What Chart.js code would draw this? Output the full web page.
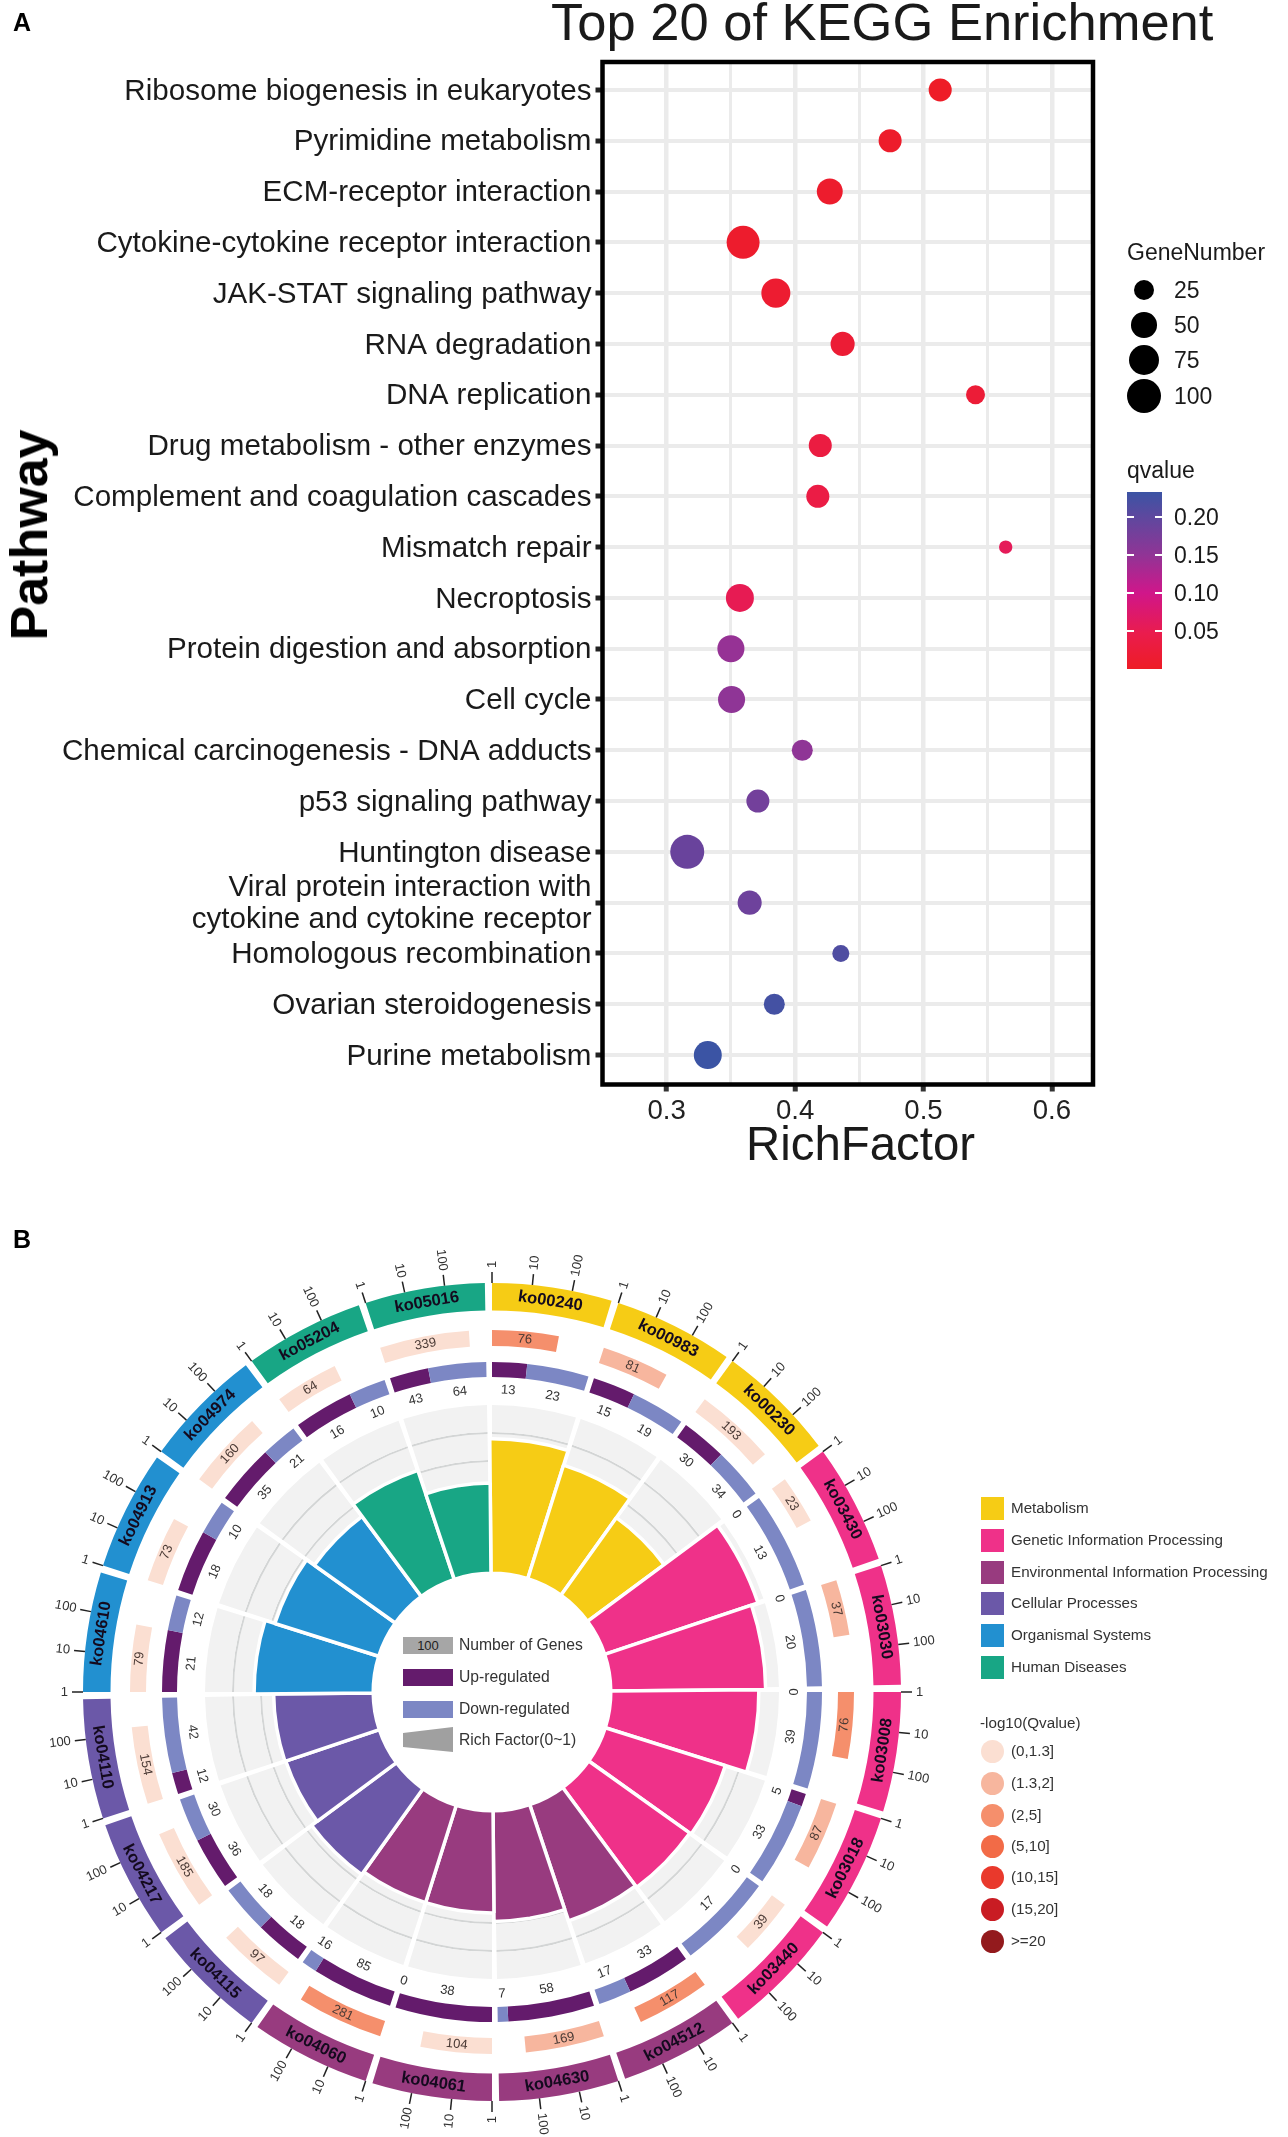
<!DOCTYPE html>
<html>
<head>
<meta charset="utf-8">
<title>KEGG enrichment</title>
<script src="https://cdn.jsdelivr.net/npm/chart.js@4"></script>
<style>
  html, body { margin: 0; padding: 0; background: #fff; }
  #page { position: relative; width: 1288px; height: 2137px; overflow: hidden; font-family: "Liberation Sans", Arial, sans-serif; color: #1a1a1a; }
  canvas { position: absolute; }
  .t { position: absolute; white-space: nowrap; line-height: 1; transform: translateY(-50%); }
  .box { position: absolute; }
</style>
</head>
<body>
<div id="page">
  <canvas id="dots" width="1288" height="1200" style="left:0;top:0;width:1288px;height:1200px"></canvas>
  <canvas id="rings" width="1000" height="937" style="left:0;top:1200px;width:1000px;height:937px"></canvas>
  <canvas id="bars" width="578" height="578" style="left:203px;top:1403px;width:578px;height:578px"></canvas>
</div>
<script>
// panel A
const pathways = ['Ribosome biogenesis in eukaryotes', 'Pyrimidine metabolism', 'ECM-receptor interaction',
  'Cytokine-cytokine receptor interaction', 'JAK-STAT signaling pathway', 'RNA degradation', 'DNA replication',
  'Drug metabolism - other enzymes', 'Complement and coagulation cascades', 'Mismatch repair', 'Necroptosis',
  'Protein digestion and absorption', 'Cell cycle', 'Chemical carcinogenesis - DNA adducts', 'p53 signaling pathway',
  'Huntington disease', ['Viral protein interaction with', 'cytokine and cytokine receptor'],
  'Homologous recombination', 'Ovarian steroidogenesis', 'Purine metabolism'];
const richFactor = [0.513, 0.474, 0.427, 0.3595, 0.385, 0.437, 0.5405, 0.4196, 0.4177, 0.564,
  0.357, 0.350, 0.3505, 0.4056, 0.371, 0.316, 0.3646, 0.4356, 0.3838, 0.332];
const geneNumber = [38, 38, 52, 93, 69, 43, 21, 38, 38, 3, 63, 58, 58, 29, 38, 100, 43, 14, 29, 63];
const qvalue = [0.002, 0.008, 0.01, 0.01, 0.015, 0.02, 0.022, 0.035, 0.04, 0.06,
  0.055, 0.145, 0.15, 0.15, 0.18, 0.19, 0.185, 0.215, 0.225, 0.233];
const richTicks = [0.3, 0.35, 0.4, 0.45, 0.5, 0.55, 0.6];
const sizeKeys = [25, 50, 75, 100];
const qTicks = ['0.20', '0.15', '0.10', '0.05'];

// panel B, clockwise from 12 o'clock
const koIds = ['ko00240', 'ko00983', 'ko00230', 'ko03430', 'ko03030', 'ko03008', 'ko03018', 'ko03440', 'ko04512', 'ko04630',
  'ko04061', 'ko04060', 'ko04115', 'ko04217', 'ko04110', 'ko04610', 'ko04913', 'ko04974', 'ko05204', 'ko05016'];
const koClass = [0, 0, 0, 1, 1, 1, 1, 1, 2, 2, 2, 2, 3, 3, 3, 4, 4, 4, 5, 5];
const koGenes = [76, 81, 193, 23, 37, 76, 87, 39, 117, 169, 104, 281, 97, 185, 154, 79, 73, 160, 64, 339];
const koQBin = [2, 1, 0, 0, 1, 2, 1, 0, 2, 1, 0, 2, 0, 0, 0, 0, 0, 0, 0, 0];
const koUp = [13, 15, 30, 0, 0, 0, 5, 0, 33, 58, 38, 85, 18, 36, 12, 21, 18, 35, 16, 43];
const koDown = [23, 19, 34, 13, 20, 39, 33, 17, 17, 7, 0, 16, 18, 30, 42, 12, 10, 21, 10, 64];
const koRich = [0.79, 0.70, 0.56, 0.95, 0.91, 0.87, 0.74, 0.73, 0.72, 0.65,
  0.60, 0.60, 0.62, 0.58, 0.585, 0.70, 0.64, 0.585, 0.675, 0.53];
const classNames = ['Metabolism', 'Genetic Information Processing', 'Environmental Information Processing',
  'Cellular Processes', 'Organismal Systems', 'Human Diseases'];
const classColors = ['#f6cc15', '#ef3189', '#983b7f', '#6b58a8', '#2290d0', '#18a685'];
const qBinNames = ['(0,1.3]', '(1.3,2]', '(2,5]', '(5,10]', '(10,15]', '(15,20]', '>=20'];
const qBinColors = ['#fbdfd2', '#f7b69e', '#f58f6c', '#f26b47', '#e9392c', '#c91c23', '#931a1d'];
const logTicks = ['1', '10', '100'];

const UP = '#641b6c', DOWN = '#7c87c4', TRACK = '#f2f2f2', TRACK_LINE = '#d3d5d5', NONE = 'rgba(0,0,0,0)';
const FONT = '"Liberation Sans", Arial, sans-serif';
const page = document.getElementById('page');

// --- html text and keys ---
function put(text, x, y, size, extra) {
  const d = document.createElement('div');
  d.className = 't';
  d.textContent = text;
  d.style.left = x + 'px';
  d.style.top = y + 'px';
  d.style.fontSize = size + 'px';
  if (extra) Object.assign(d.style, extra);
  page.appendChild(d);
  return d;
}
function box(x, y, w, h, extra) {
  const d = document.createElement('div');
  d.className = 'box';
  Object.assign(d.style, { left: x + 'px', top: y + 'px', width: w + 'px', height: h + 'px' }, extra);
  page.appendChild(d);
  return d;
}

put('A', 13, 22, 25, { fontWeight: 'bold', color: '#000' });
put('B', 13, 1239, 25, { fontWeight: 'bold', color: '#000' });
put('Top 20 of KEGG Enrichment', 551, 22, 52.5);
put('RichFactor', 746, 1144, 47.4);
put('Pathway', 29, 535, 52, { fontWeight: 'bold', color: '#000', transform: 'translate(-50%,-50%) rotate(-90deg)' });

put('GeneNumber', 1127, 252, 23);
const sizeY = [290, 325, 360, 396];
sizeKeys.forEach((k, i) => {
  const r = sizeOf(k);
  box(1144 - r, sizeY[i] - r, 2 * r, 2 * r, { background: '#000', borderRadius: '50%' });
  put(String(k), 1174, sizeY[i], 23);
});
put('qvalue', 1127, 470, 23);
box(1127, 492, 35, 177, { background: 'linear-gradient(to top,#ee1c25 0%,#ea1c4d 20%,#d0168a 43%,#8f3596 65%,#60479e 85%,#3b54a4 100%)' });
[517, 555, 593, 631].forEach((y, i) => {
  box(1127, y - 1, 7, 2, { background: '#fff' });
  box(1155, y - 1, 7, 2, { background: '#fff' });
  put(qTicks[i], 1174, y, 23);
});

// legend in the middle of the rings
[['100', 1645, '#a6a6a6', 'Number of Genes'], ['', 1677, UP, 'Up-regulated'], ['', 1709, DOWN, 'Down-regulated']].forEach(row => {
  const b = box(403, row[1] - 8.5, 50, 17, { background: row[2], color: '#222', font: '13px ' + FONT, textAlign: 'center', lineHeight: '17px' });
  b.textContent = row[0];
  put(row[3], 459, row[1], 15.7, { color: '#333' });
});
box(403, 1727, 50, 25, { background: '#a0a0a0', clipPath: 'polygon(0 24%,100% 0,100% 100%,0 80%)' });
put('Rich Factor(0~1)', 459, 1740, 15.7, { color: '#333' });

classNames.forEach((n, i) => {
  const y = [1508, 1540, 1572, 1603, 1635, 1667][i];
  box(981, y - 11.5, 23, 23, { background: classColors[i] });
  put(n, 1011, y, 15.2, { color: '#333' });
});
put('-log10(Qvalue)', 980, 1723, 15.2, { color: '#333' });
qBinNames.forEach((n, i) => {
  const y = [1751, 1783, 1815, 1846, 1877, 1909, 1941][i];
  box(980.5, y - 11.5, 23, 23, { background: qBinColors[i], borderRadius: '50%' });
  put(n, 1011, y, 15.2, { color: '#333' });
});

// --- panel A ---
function sizeOf(g) { return Math.sqrt(37 + 2.52 * g); }

const qStops = [[0, [238, 28, 37]], [0.05, [234, 28, 77]], [0.1, [208, 22, 138]], [0.15, [143, 53, 150]], [0.2, [96, 71, 158]], [0.233, [59, 84, 164]]];
function qColor(q) {
  for (let i = 1; i < qStops.length; i++) {
    if (q <= qStops[i][0]) {
      const a = qStops[i - 1], b = qStops[i], f = (q - a[0]) / (b[0] - a[0]);
      return 'rgb(' + a[1].map((v, c) => Math.round(v + (b[1][c] - v) * f)).join(',') + ')';
    }
  }
  return 'rgb(59,84,164)';
}

const frame = {
  id: 'frame',
  afterDraw(chart) {
    const a = chart.chartArea, c = chart.ctx;
    c.save();
    c.strokeStyle = '#000';
    c.lineWidth = 4.5;
    c.strokeRect(a.left, a.top, a.right - a.left, a.bottom - a.top);
    c.restore();
  }
};

const isMajor = v => Math.round(v * 100) % 10 === 0;

new Chart(document.getElementById('dots'), {
  type: 'bubble',
  data: {
    datasets: [{
      label: 'Pathways',
      data: pathways.map((p, i) => ({ x: richFactor[i], y: i + 1, r: sizeOf(geneNumber[i]) })),
      backgroundColor: qvalue.map(qColor),
      borderWidth: 0
    }]
  },
  options: {
    responsive: false,
    animation: false,
    layout: { padding: { top: 62, left: 0, right: 195, bottom: 0 } },
    plugins: { legend: { display: false }, tooltip: { enabled: false } },
    scales: {
      x: {
        type: 'linear', min: 0.25, max: 0.632,
        afterBuildTicks: s => { s.ticks = richTicks.map(v => ({ value: v })); },
        afterFit: s => { s.height = 115.5; },
        grid: {
          color: '#ebebeb',
          lineWidth: ctx => (ctx.tick && isMajor(ctx.tick.value) ? 4.5 : 3),
          tickColor: ctx => (ctx.tick && isMajor(ctx.tick.value) ? '#333' : NONE),
          tickLength: 7, tickWidth: 5
        },
        border: { display: false },
        ticks: {
          autoSkip: false, maxRotation: 0, padding: 3, color: '#222',
          font: { family: FONT, size: 27.6 },
          callback: v => (isMajor(v) ? v.toFixed(1) : '')
        }
      },
      y: {
        type: 'linear', min: 0.45, max: 20.58, reverse: true,
        afterBuildTicks: s => { s.ticks = pathways.map((p, i) => ({ value: i + 1 })); },
        afterFit: s => { s.width = 602.5; },
        grid: { color: '#ebebeb', lineWidth: 4, tickColor: '#222', tickLength: 7, tickWidth: 5 },
        border: { display: false },
        ticks: {
          autoSkip: false, padding: 4, color: '#1a1a1a', labelOffset: 1.5,
          font: { family: FONT, size: 29.6, lineHeight: 1.07 },
          callback: v => pathways[v - 1]
        }
      }
    }
  },
  plugins: [frame]
});

// --- panel B ---
const SECTOR = 17, GAP = 1; // degrees of arc per pathway
const koSlices = koIds.flatMap(() => [SECTOR, GAP]);
const koColors = koClass.flatMap(c => [classColors[c], NONE]);
const geneSlices = koGenes.flatMap(g => { const f = Math.log10(g) / 3; return [SECTOR * f, SECTOR * (1 - f) + GAP]; });
const geneColors = koQBin.flatMap(b => [qBinColors[b], NONE]);
const regSlices = koIds.flatMap((k, i) => {
  const t = koUp[i] + koDown[i];
  return [SECTOR * koUp[i] / t, SECTOR * koDown[i] / t, GAP];
});
const regColors = koIds.flatMap(() => [UP, DOWN, NONE]);
const trackColors = koIds.flatMap(() => [TRACK, NONE]);
const lineColors = koIds.flatMap(() => [TRACK_LINE, NONE]);

function ring(label, data, colors, weight) {
  return { label, data, backgroundColor: colors, weight, borderWidth: 0 };
}
function deg(a) { return (a + Math.PI / 2) * 180 / Math.PI; }

function textAt(c, text, ang, r, rotDeg, align) {
  c.save();
  c.translate(492 + r * Math.cos(ang), 492 + r * Math.sin(ang));
  c.rotate(rotDeg * Math.PI / 180);
  c.textAlign = align || 'center';
  c.textBaseline = 'middle';
  c.fillText(text, 0, 0);
  c.restore();
}
function bent(theta) { return theta < 90 || theta > 270 ? theta : theta - 180; }

const ringText = {
  id: 'ringText',
  afterDatasetsDraw(chart) {
    const c = chart.ctx;
    const ko = chart.getDatasetMeta(0).data, gene = chart.getDatasetMeta(2).data, reg = chart.getDatasetMeta(4).data;
    c.save();
    koIds.forEach((id, i) => {
      const a = ko[2 * i], mid = (a.startAngle + a.endAngle) / 2;
      c.fillStyle = '#140a1e';
      c.font = 'bold 16.5px ' + FONT;
      textAt(c, id, mid, 395, bent(deg(mid)));

      // log ticks
      c.font = '13px ' + FONT;
      c.fillStyle = '#333';
      c.strokeStyle = '#222';
      c.lineWidth = 1.5;
      logTicks.forEach((t, j) => {
        const ang = a.startAngle + (a.endAngle - a.startAngle) * j / 3;
        const th = deg(ang);
        c.beginPath();
        c.moveTo(492 + 409 * Math.cos(ang), 492 + 409 * Math.sin(ang));
        c.lineTo(492 + 420 * Math.cos(ang), 492 + 420 * Math.sin(ang));
        c.stroke();
        if (th < 180) textAt(c, t, ang, 424, th - 90, 'left');
        else textAt(c, t, ang, 424, th - 270, 'right');
      });

      // gene count
      const g = gene[2 * i], gm = (g.startAngle + g.endAngle) / 2;
      c.fillStyle = '#4a3a35';
      c.font = '13px ' + FONT;
      textAt(c, String(koGenes[i]), gm, 354, bent(deg(gm)));

      // up and down counts
      c.fillStyle = '#333';
      const u = reg[3 * i], d = reg[3 * i + 1];
      const um = (u.startAngle + u.endAngle) / 2, dm = (d.startAngle + d.endAngle) / 2;
      textAt(c, String(koUp[i]), um, 302, bent(deg(um)));
      textAt(c, String(koDown[i]), dm, 302, bent(deg(dm)));
    });
    c.restore();
  }
};

new Chart(document.getElementById('rings'), {
  type: 'doughnut',
  data: {
    labels: koIds.flatMap(k => [k, '']),
    datasets: [
      ring('Pathway', koSlices, koColors, 27.5),
      ring('', koSlices, koIds.flatMap(() => [NONE, NONE]), 19.5),
      ring('Number of genes', geneSlices, geneColors, 16),
      ring('', koSlices, koIds.flatMap(() => [NONE, NONE]), 16),
      ring('Regulation', regSlices, regColors, 15),
      ring('', koSlices, koIds.flatMap(() => [NONE, NONE]), 28),
      ring('Track', koSlices, trackColors, 27),
      ring('Track line', koSlices, lineColors, 2),
      ring('Track', koSlices, trackColors, 26),
      ring('Track line', koSlices, lineColors, 2),
      ring('Track', koSlices, trackColors, 112)
    ]
  },
  options: {
    responsive: false,
    animation: false,
    cutout: 118,
    layout: { padding: { left: 83, top: 83, right: 99, bottom: 36 } },
    plugins: { legend: { display: false }, tooltip: { enabled: false } }
  },
  plugins: [ringText]
});

// rich factor wedges start at the rim of the hole (value 0 on the radial scale)
const holeAtZero = {
  id: 'holeAtZero',
  beforeDatasetsDraw(chart) {
    const zero = chart.scales.r.getDistanceFromCenterForValue(0);
    chart.getDatasetMeta(0).data.forEach(a => { a.innerRadius = zero; });
  }
};

new Chart(document.getElementById('bars'), {
  type: 'polarArea',
  data: {
    labels: koIds,
    datasets: [{
      label: 'Rich Factor',
      data: koRich,
      backgroundColor: koClass.map(c => classColors[c]),
      borderColor: '#fff',
      borderWidth: 3.5
    }]
  },
  options: {
    responsive: false,
    animation: false,
    layout: { padding: 0 },
    plugins: { legend: { display: false }, tooltip: { enabled: false } },
    scales: { r: { display: false, min: -0.698, max: 1, startAngle: -0.5 } }
  },
  plugins: [holeAtZero]
});
</script>
</body>
</html>
